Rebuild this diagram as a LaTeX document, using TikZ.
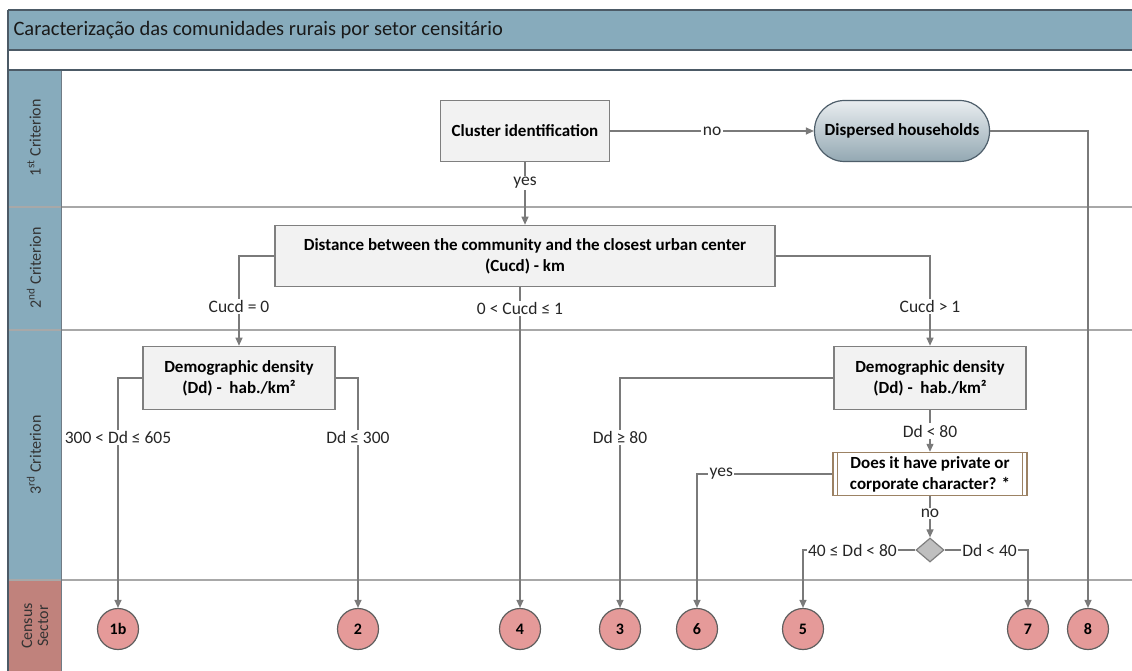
\documentclass[tikz,border=0pt]{standalone}
\usepackage{fontspec}
\setmainfont{Carlito}
\usetikzlibrary{shapes.geometric,arrows.meta,calc}
\definecolor{lanecol}{HTML}{87ABBC}
\definecolor{censcol}{HTML}{C0827C}
\definecolor{circfill}{HTML}{E59A99}
\definecolor{circline}{HTML}{5E5E5E}
\definecolor{boxfill}{HTML}{F2F2F2}
\definecolor{boxline}{HTML}{7F7F7F}
\definecolor{conn}{HTML}{7A7A7A}
\definecolor{sepline}{HTML}{A8A8A8}
\definecolor{framecol}{HTML}{4C5A66}
\definecolor{brownline}{HTML}{9C8264}
\definecolor{dispTop}{HTML}{E9EDEF}
\definecolor{dispBot}{HTML}{93A8B3}
\definecolor{dispLine}{HTML}{4E5E6A}
\definecolor{diafill}{HTML}{BFBFBF}
\begin{document}
\begin{tikzpicture}[x=1pt,y=-1pt,
  boxtxt/.style={font=\fontsize{17}{21}\selectfont\bfseries, align=center},
  procbox/.style={boxtxt, draw=boxline, fill=boxfill, line width=1.6pt, inner sep=2pt},
  termbox/.style={boxtxt, draw=dispLine, line width=1.2pt, rounded corners=30pt, top color=dispTop, bottom color=dispBot},
  decbox/.style={boxtxt, draw=brownline, fill=white, line width=1.4pt, inner sep=2pt},
  diabox/.style={diamond, draw=boxline, fill=diafill, line width=1.2pt, inner sep=0pt, minimum width=28pt, minimum height=24pt},
  sector/.style={circle, draw=circline, fill=circfill, line width=1.2pt, minimum size=41pt, inner sep=0pt, font=\fontsize{16}{18}\selectfont\bfseries},
  arr/.style={draw=conn, line width=1.2pt, -{Triangle[length=8pt,width=7pt]}},
  lbl/.style={fill=white, inner sep=1.5pt, font=\fontsize{17.5}{19}\selectfont, text=black!85},
  lanelbl/.style={rotate=90, font=\fontsize{16}{16}\selectfont, text=black!80, align=center}
]
\useasboundingbox (0,0) rectangle (1132,671);
% header and lanes
\fill[lanecol] (8,10) rectangle (1132,50);
\fill[white] (8,50) rectangle (1132,70);
\fill[lanecol] (8,70) rectangle (61,580);
\fill[censcol] (8,580) rectangle (61,671);
\foreach \yy in {207,330,580} {\draw[sepline, line width=1.2pt] (8,\yy) -- (1132,\yy);}
\draw[framecol!80, line width=1pt] (61,70) -- (61,671);
\draw[framecol, line width=1.6pt] (8,10) -- (1132,10);
\draw[framecol, line width=1.6pt] (8,50) -- (1132,50);
\draw[framecol, line width=1.6pt] (8,70) -- (1132,70);
\draw[framecol, line width=1.6pt] (8,10) -- (8,671);
\node[anchor=west, font=\fontsize{20.5}{22}\selectfont, text=black!90] (title) at (10,30) {Caracterização das comunidades rurais por setor censitário};
\node[lanelbl] (l1) at (34,138) {1\textsuperscript{st} Criterion};
\node[lanelbl] (l2) at (34,268) {2\textsuperscript{nd} Criterion};
\node[lanelbl] (l3) at (34,455) {3\textsuperscript{rd} Criterion};
\node[lanelbl] (l4) at (35,626) {Census\\Sector};

% nodes
\node[procbox, minimum width=169pt, minimum height=61pt] (cluster) at (525,131) {Cluster identification};
\node[termbox, minimum width=175pt, minimum height=61pt] (disp) at (902,131) {Dispersed households};
\node[procbox, minimum width=500pt, minimum height=61pt] (dist) at (525,256) {Distance between the community and the closest urban center\\(Cucd) - km};
\node[procbox, minimum width=192pt, minimum height=63pt] (dd1) at (239,378) {Demographic density\\(Dd) -~ hab./km²};
\node[procbox, minimum width=192pt, minimum height=63pt] (dd2) at (930,378) {Demographic density\\(Dd) -~ hab./km²};
\node[decbox, minimum width=194pt, minimum height=43pt] (priv) at (930,474) {Does it have private or\\corporate character? *};
\draw[brownline, line width=1.2pt] ([xshift=5pt]priv.north west) -- ([xshift=5pt]priv.south west);
\draw[brownline, line width=1.2pt] ([xshift=-5pt]priv.north east) -- ([xshift=-5pt]priv.south east);
\node[diabox] (dia) at (930,550) {};

\node[sector] (c1b) at (118,629) {1b};
\node[sector] (c2) at (358,629) {2};
\node[sector] (c4) at (520,629) {4};
\node[sector] (c3) at (620,629) {3};
\node[sector] (c6) at (697,629) {6};
\node[sector] (c5) at (803,629) {5};
\node[sector] (c7) at (1028,629) {7};
\node[sector] (c8) at (1088,629) {8};

% connectors
\draw[arr] (cluster) -- node[lbl]{no} (disp);
\draw[arr] (cluster) -- node[lbl, pos=0.33]{yes} (dist);
\draw[arr] (disp.east) -| (c8);
\draw[arr] (dist.west) -| node[lbl, pos=0.78]{Cucd = 0} (dd1);
\draw[arr] (dist.south -| c4) -- node[lbl, pos=0.065]{0 < Cucd ≤ 1} (c4);
\draw[arr] (dist.east) -| node[lbl, pos=0.78]{Cucd > 1} (dd2);
\draw[arr] (dd1.west) -| node[lbl, pos=0.63]{300 < Dd ≤ 605} (c1b);
\draw[arr] (dd1.east) -| node[lbl, pos=0.63]{Dd ≤ 300} (c2);
\draw[arr] (dd2.west) -| node[lbl, pos=0.63]{Dd ≥ 80} (c3);
\draw[arr] (dd2) -- node[lbl, pos=0.5]{Dd < 80} (priv);
\draw[arr] (priv.west) -| node[lbl, pos=0.41]{yes} (c6);
\draw[arr] (priv) -- node[lbl, pos=0.42]{no} (dia);
\draw[arr] (dia.west) -| node[lbl, pos=0.28]{40 ≤ Dd < 80} (c5);
\draw[arr] (dia.east) -| node[lbl, pos=0.27]{Dd < 40} (c7);
\end{tikzpicture}
\end{document}
